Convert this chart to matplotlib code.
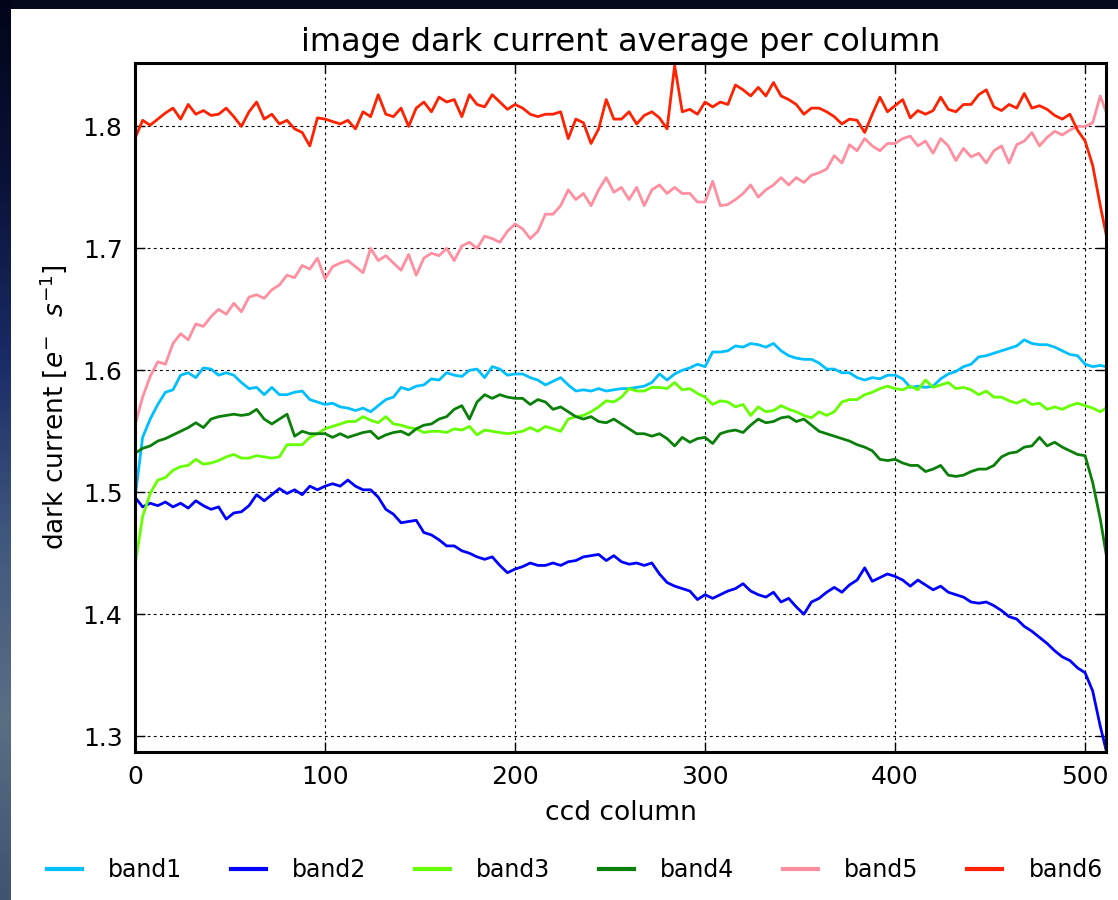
import numpy as np
import matplotlib
matplotlib.use("Agg")
import matplotlib.pyplot as plt
from matplotlib.colors import LinearSegmentedColormap
from matplotlib.patches import Rectangle

# ccd columns sampled every 4 pixels, plus the last column
columns = list(range(0, 512, 4)) + [511]

band1 = [
    1.495, 1.545, 1.560, 1.572, 1.582, 1.584, 1.596, 1.598, 1.594, 1.602, 1.601, 1.596, 1.598,
    1.596, 1.590, 1.585, 1.586, 1.580, 1.586, 1.580, 1.580, 1.582, 1.583, 1.576, 1.574,
    1.572, 1.573, 1.570, 1.569, 1.567, 1.569, 1.566, 1.571, 1.576, 1.578, 1.586, 1.584, 1.587,
    1.588, 1.593, 1.592, 1.598, 1.596, 1.595, 1.600, 1.601, 1.594, 1.603, 1.601, 1.596,
    1.597, 1.597, 1.594, 1.592, 1.588, 1.591, 1.594, 1.588, 1.583, 1.584, 1.583, 1.585, 1.583,
    1.584, 1.585, 1.585, 1.586, 1.587, 1.590, 1.597, 1.592, 1.597, 1.600, 1.602, 1.605,
    1.603, 1.615, 1.615, 1.616, 1.620, 1.619, 1.622, 1.621, 1.619, 1.622, 1.616, 1.612, 1.610,
    1.609, 1.609, 1.606, 1.601, 1.601, 1.598, 1.598, 1.594, 1.592, 1.594, 1.593, 1.596,
    1.596, 1.593, 1.586, 1.587, 1.586, 1.587, 1.593, 1.597, 1.599, 1.603, 1.605, 1.611, 1.612,
    1.614, 1.616, 1.618, 1.620, 1.625, 1.622, 1.621, 1.621, 1.619, 1.616, 1.613, 1.612,
    1.605, 1.603, 1.604, 1.603,
]

band2 = [
    1.496, 1.488, 1.491, 1.489, 1.492, 1.488, 1.491, 1.487, 1.493, 1.489, 1.486, 1.488, 1.478,
    1.483, 1.484, 1.489, 1.498, 1.493, 1.498, 1.503, 1.499, 1.502, 1.498, 1.505, 1.502,
    1.505, 1.507, 1.505, 1.510, 1.505, 1.502, 1.502, 1.496, 1.486, 1.482, 1.475, 1.476, 1.477,
    1.467, 1.465, 1.461, 1.456, 1.456, 1.452, 1.450, 1.447, 1.445, 1.447, 1.440, 1.434,
    1.437, 1.439, 1.442, 1.440, 1.440, 1.442, 1.440, 1.443, 1.444, 1.447, 1.448, 1.449, 1.444,
    1.448, 1.443, 1.441, 1.442, 1.440, 1.442, 1.433, 1.426, 1.423, 1.421, 1.419, 1.412,
    1.416, 1.413, 1.416, 1.419, 1.421, 1.425, 1.419, 1.416, 1.414, 1.418, 1.410, 1.413, 1.406,
    1.400, 1.410, 1.413, 1.418, 1.422, 1.418, 1.424, 1.428, 1.438, 1.427, 1.430, 1.433,
    1.431, 1.428, 1.423, 1.428, 1.424, 1.420, 1.423, 1.418, 1.416, 1.414, 1.410, 1.409, 1.410,
    1.407, 1.403, 1.398, 1.396, 1.390, 1.386, 1.381, 1.376, 1.370, 1.365, 1.362, 1.356,
    1.352, 1.337, 1.308, 1.289,
]

band3 = [
    1.440, 1.480, 1.499, 1.510, 1.512, 1.518, 1.521, 1.522, 1.527, 1.523, 1.524, 1.526, 1.529,
    1.531, 1.528, 1.528, 1.530, 1.529, 1.528, 1.529, 1.539, 1.539, 1.539, 1.545, 1.548,
    1.552, 1.554, 1.556, 1.558, 1.558, 1.562, 1.559, 1.557, 1.562, 1.556, 1.555, 1.553, 1.552,
    1.549, 1.550, 1.550, 1.549, 1.552, 1.551, 1.554, 1.547, 1.551, 1.550, 1.549, 1.548,
    1.549, 1.550, 1.553, 1.550, 1.554, 1.552, 1.550, 1.560, 1.562, 1.563, 1.566, 1.570, 1.575,
    1.574, 1.578, 1.585, 1.583, 1.583, 1.586, 1.586, 1.585, 1.590, 1.584, 1.585, 1.581,
    1.578, 1.572, 1.575, 1.574, 1.570, 1.572, 1.563, 1.570, 1.566, 1.567, 1.571, 1.568, 1.566,
    1.563, 1.561, 1.566, 1.563, 1.566, 1.574, 1.576, 1.576, 1.580, 1.582, 1.585, 1.587,
    1.585, 1.584, 1.587, 1.584, 1.592, 1.586, 1.588, 1.590, 1.585, 1.586, 1.584, 1.580, 1.583,
    1.578, 1.578, 1.575, 1.573, 1.576, 1.572, 1.573, 1.568, 1.570, 1.568, 1.571, 1.573,
    1.571, 1.569, 1.566, 1.569,
]

band4 = [
    1.532, 1.536, 1.538, 1.542, 1.544, 1.547, 1.550, 1.553, 1.557, 1.553, 1.560, 1.562, 1.563,
    1.564, 1.563, 1.564, 1.568, 1.560, 1.556, 1.560, 1.564, 1.546, 1.550, 1.548, 1.548,
    1.548, 1.545, 1.548, 1.545, 1.547, 1.549, 1.550, 1.544, 1.547, 1.549, 1.550, 1.547, 1.552,
    1.555, 1.556, 1.560, 1.562, 1.568, 1.571, 1.560, 1.574, 1.580, 1.577, 1.580, 1.578,
    1.577, 1.577, 1.572, 1.576, 1.574, 1.568, 1.570, 1.566, 1.562, 1.560, 1.562, 1.558, 1.557,
    1.560, 1.556, 1.552, 1.548, 1.548, 1.546, 1.548, 1.544, 1.538, 1.545, 1.541, 1.544,
    1.545, 1.540, 1.548, 1.550, 1.551, 1.549, 1.555, 1.560, 1.557, 1.558, 1.561, 1.562, 1.558,
    1.560, 1.555, 1.550, 1.548, 1.546, 1.544, 1.542, 1.539, 1.537, 1.534, 1.527, 1.526,
    1.527, 1.524, 1.522, 1.522, 1.517, 1.519, 1.522, 1.514, 1.513, 1.514, 1.517, 1.519, 1.519,
    1.522, 1.529, 1.532, 1.533, 1.537, 1.538, 1.545, 1.538, 1.541, 1.537, 1.534, 1.531,
    1.530, 1.508, 1.478, 1.450,
]

band5 = [
    1.555, 1.578, 1.595, 1.607, 1.605, 1.622, 1.630, 1.625, 1.638, 1.636, 1.644, 1.650, 1.646,
    1.655, 1.648, 1.660, 1.662, 1.659, 1.666, 1.670, 1.678, 1.676, 1.686, 1.683, 1.692,
    1.675, 1.685, 1.688, 1.690, 1.685, 1.680, 1.700, 1.690, 1.694, 1.688, 1.682, 1.695, 1.678,
    1.692, 1.696, 1.694, 1.700, 1.690, 1.702, 1.705, 1.700, 1.710, 1.708, 1.705, 1.714,
    1.720, 1.716, 1.708, 1.714, 1.728, 1.728, 1.735, 1.748, 1.740, 1.745, 1.735, 1.748, 1.758,
    1.746, 1.750, 1.740, 1.750, 1.735, 1.748, 1.752, 1.745, 1.750, 1.745, 1.745, 1.738,
    1.738, 1.755, 1.735, 1.736, 1.740, 1.745, 1.752, 1.742, 1.748, 1.752, 1.758, 1.752, 1.758,
    1.754, 1.760, 1.762, 1.765, 1.776, 1.770, 1.785, 1.780, 1.790, 1.784, 1.780, 1.786,
    1.786, 1.790, 1.792, 1.784, 1.788, 1.778, 1.790, 1.784, 1.772, 1.782, 1.775, 1.778, 1.770,
    1.780, 1.784, 1.770, 1.785, 1.788, 1.795, 1.784, 1.791, 1.796, 1.793, 1.797, 1.800,
    1.800, 1.803, 1.825, 1.812,
]

band6 = [
    1.790, 1.805, 1.801, 1.806, 1.811, 1.815, 1.806, 1.818, 1.810, 1.813, 1.809, 1.810, 1.815,
    1.808, 1.800, 1.812, 1.820, 1.806, 1.810, 1.802, 1.805, 1.798, 1.795, 1.784, 1.807,
    1.806, 1.804, 1.802, 1.805, 1.798, 1.812, 1.808, 1.826, 1.810, 1.808, 1.815, 1.800, 1.815,
    1.820, 1.812, 1.824, 1.820, 1.822, 1.808, 1.826, 1.818, 1.816, 1.826, 1.820, 1.814,
    1.818, 1.815, 1.810, 1.808, 1.810, 1.810, 1.812, 1.790, 1.806, 1.803, 1.786, 1.798, 1.822,
    1.806, 1.806, 1.812, 1.802, 1.809, 1.812, 1.807, 1.798, 1.850, 1.812, 1.814, 1.810,
    1.820, 1.816, 1.820, 1.818, 1.834, 1.830, 1.825, 1.832, 1.825, 1.836, 1.825, 1.822, 1.818,
    1.810, 1.815, 1.815, 1.812, 1.808, 1.802, 1.806, 1.805, 1.795, 1.810, 1.824, 1.812,
    1.817, 1.822, 1.807, 1.813, 1.810, 1.813, 1.824, 1.814, 1.812, 1.818, 1.818, 1.826, 1.830,
    1.816, 1.813, 1.818, 1.815, 1.827, 1.815, 1.817, 1.814, 1.809, 1.806, 1.810, 1.797,
    1.788, 1.768, 1.735, 1.712,
]

labels = ["band1", "band2", "band3", "band4", "band5", "band6"]
colors = ["#00bfff", "#0000ff", "#66ff00", "#0a800a", "#ff8fa0", "#ff2200"]

fig = plt.figure(figsize=(11.18, 9), dpi=100)
fig.patch.set_facecolor("#04081c")

# backdrop: starry-sky strip on the left, white sheet for the plot
bg = fig.add_axes([0, 0, 1, 1], zorder=-10)
bg.set_xlim(0, 1118)
bg.set_ylim(900, 0)
bg.axis("off")
sky = LinearSegmentedColormap.from_list(
    "sky", ["#02051a", "#0a1238", "#1a2c66", "#41587e", "#5a6e84", "#3f556f"])
bg.imshow(np.linspace(0, 1, 200)[:, None], aspect="auto", cmap=sky,
          extent=(0, 11, 900, 0))
bg.add_patch(Rectangle((11, 9), 1118, 900, facecolor="white", edgecolor="none"))

ax = fig.add_axes([135 / 1118, 1 - 752 / 900, (1106 - 135) / 1118, (752 - 63) / 900])
for y, lab, c in zip([band1, band2, band3, band4, band5, band6], labels, colors):
    ax.plot(columns, y, color=c, lw=2, label=lab)

ax.set_xlim(0, 511)
ax.set_ylim(1.287, 1.852)
ax.set_xticks([0, 100, 200, 300, 400, 500])
ax.set_yticks([1.3, 1.4, 1.5, 1.6, 1.7, 1.8])
ax.grid(True, color="black", linestyle=(0, (2.5, 3)), linewidth=0.8)
ax.tick_params(direction="in", top=True, right=True, length=7, width=1,
               labelsize=18, pad=9)
for s in ax.spines.values():
    s.set_linewidth(2.2)

ax.set_title("image dark current average per column", fontsize=23, pad=9)
ax.set_xlabel("ccd column", fontsize=19, labelpad=8)
ax.set_ylabel(r"dark current $[e^{-}\ \ s^{-1}]$", fontsize=19, labelpad=10)

leg = fig.legend(loc="center", bbox_to_anchor=(0.514, 1 - 870 / 900), ncol=6, frameon=False,
                 fontsize=17, handlelength=1.5, handletextpad=1.1, columnspacing=2.05)
for h in leg.legend_handles:
    h.set_linewidth(3)

fig.savefig("out.png", dpi=100, facecolor=fig.get_facecolor())
